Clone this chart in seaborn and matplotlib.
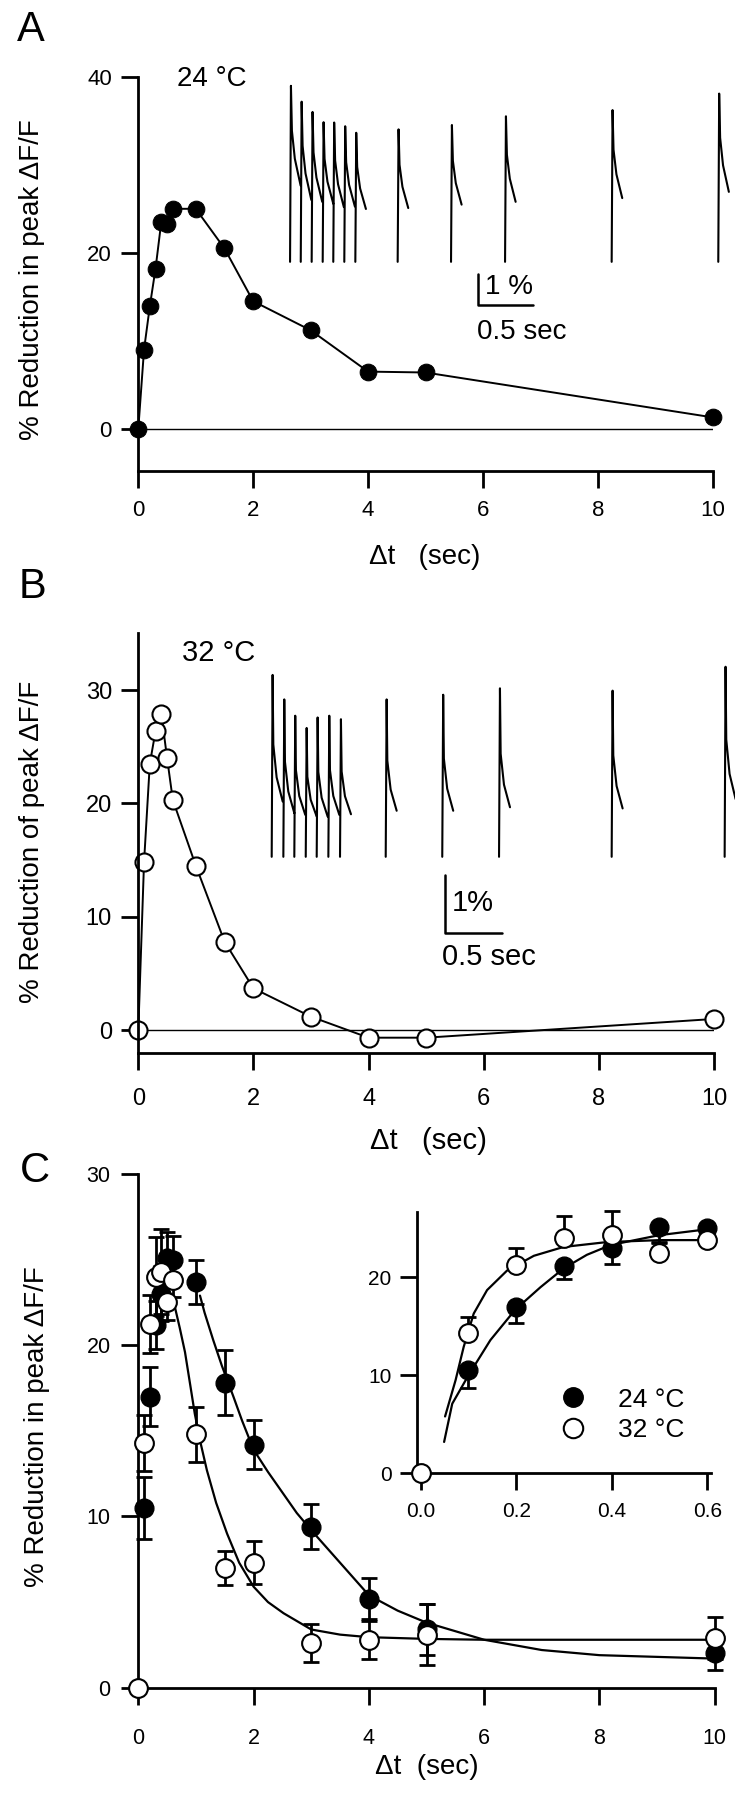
import numpy as np
import seaborn as sns
import matplotlib.pyplot as plt
from matplotlib.lines import Line2D

sns.set_theme(style="ticks")
plt.rcParams['font.family'] = ['Liberation Sans', 'DejaVu Sans']
plt.rcParams.update({"text.color": "black", "axes.labelcolor": "black",
                     "xtick.color": "black", "ytick.color": "black",
                     "axes.edgecolor": "black"})

W, H = 748, 1800

# ---------------- data ----------------
dt = [0, 0.1, 0.2, 0.3, 0.4, 0.5, 0.6, 1, 1.5, 2, 3, 4, 5, 10]
red_24 = [0, 9.0, 13.9, 18.2, 23.5, 23.3, 25.0, 25.0, 20.5, 14.5, 11.2, 6.5, 6.4, 1.3]
red_32 = [0, 14.85, 23.5, 26.4, 27.9, 24.0, 20.3, 14.5, 7.8, 3.7, 1.2, -0.65, -0.65, 1.0]

# example fluorescence traces (time in s, amplitude in %)
trace_a_onset = [0.180, 0.276, 0.374, 0.473, 0.568, 0.667, 0.766, 1.146, 1.625, 2.110, 3.067, 4.024]
trace_a_peak = [7.53, 7.02, 6.69, 6.36, 6.35, 6.23, 6.02, 6.13, 6.27, 6.55, 6.75, 7.28]
trace_a_end = [4.32, 3.86, 3.80, 3.74, 3.63, 3.65, 3.57, 3.60, 3.71, 3.80, 3.92, 4.12]
trace_a_base = 1.87

trace_b_onset = [0.188, 0.289, 0.384, 0.483, 0.578, 0.679, 0.780, 1.176, 1.666, 2.158, 3.134, 4.113]
trace_b_peak = [4.89, 4.47, 4.19, 3.98, 4.16, 4.19, 4.13, 4.47, 4.55, 4.66, 4.62, 5.03]
trace_b_end = [2.72, 2.52, 2.49, 2.46, 2.46, 2.49, 2.50, 2.56, 2.56, 2.62, 2.60, 2.76]
trace_b_base = 1.77

# decay shape of one transient (fraction of decay time, fraction of peak-end span left)
decay_a_t = [0, 0.1, 0.4, 1.0]
decay_a_v = [1, 0.55, 0.27, 0]
decay_b_t = [0, 0.07, 0.4, 1.0]
decay_b_v = [1, 0.45, 0.19, 0]

# panel C: mean +/- sem
c24_x = [0.1, 0.2, 0.3, 0.4, 0.5, 0.6, 1, 1.5, 2, 3, 4, 5, 10]
c24_y = [10.5, 17.0, 21.2, 23.0, 25.1, 25.0, 23.7, 17.8, 14.2, 9.4, 5.2, 3.4, 2.0]
c24_err = [1.8, 1.7, 1.4, 1.6, 1.5, 1.4, 1.3, 1.9, 1.45, 1.3, 1.2, 1.5, 0.95]

c32_x = [0, 0.1, 0.2, 0.3, 0.4, 0.5, 0.6, 1, 1.5, 2, 3, 4, 5, 10]
c32_y = [0, 14.3, 21.25, 24.0, 24.3, 22.5, 23.8, 14.8, 7.0, 7.3, 2.6, 2.8, 3.1, 2.9]
c32_err = [0, 1.65, 1.7, 2.3, 2.5, 1.0, 1.0, 1.6, 1.0, 1.25, 1.1, 1.1, 1.8, 1.2]

# fitted curves
fit24_x = [1.07, 1.15, 1.30, 1.45, 1.65, 1.8, 2.0, 2.25, 2.5, 2.75, 3.0, 3.5, 4.0, 4.5, 5.0, 6.0, 7.0, 8.0, 9.0, 10.0]
fit24_y = [22.9, 21.9, 20.3, 18.8, 17.0, 15.6, 13.9, 12.6, 11.4, 10.2, 9.2, 7.3, 5.4, 4.5, 3.8, 2.8, 2.2, 1.9, 1.8, 1.7]
fit32_x = [0.63, 0.72, 0.81, 0.9, 0.98, 1.08, 1.19, 1.35, 1.54, 1.75, 2.0, 2.25, 2.52, 3.0, 3.5, 4.0, 5.0, 6.0, 8.0, 10.0]
fit32_y = [22.3, 21.0, 19.6, 17.7, 16.0, 14.3, 12.7, 10.8, 9.0, 7.3, 5.9, 5.0, 4.35, 3.4, 3.1, 2.95, 2.85, 2.8, 2.8, 2.8]

ins24_x = [0.049, 0.066, 0.1, 0.146, 0.198, 0.251, 0.299, 0.348, 0.398, 0.499, 0.599]
ins24_y = [3.2, 7.1, 10.0, 13.6, 16.7, 19.0, 20.9, 22.3, 23.3, 24.3, 24.9]
ins32_x = [0.051, 0.073, 0.090, 0.111, 0.139, 0.181, 0.237, 0.299, 0.390, 0.501, 0.599]
ins32_y = [5.8, 9.5, 12.9, 16.3, 18.7, 20.7, 22.2, 23.1, 23.6, 23.8, 23.8]


def fx(px):
    return px / W


def fy(py):
    return 1 - py / H


def style_axes(ax, xlim, ylim, xticks, yticks, labelsize=16, xpad=8, ypad=7):
    ax.set_xlim(xlim)
    ax.set_ylim(ylim)
    ax.set_facecolor("none")
    ax.grid(False)
    for s in ["top", "right"]:
        ax.spines[s].set_visible(False)
    for s in ["left", "bottom"]:
        ax.spines[s].set_linewidth(2.0)
        ax.spines[s].set_color("black")
    ax.set_xticks(xticks)
    ax.set_yticks(yticks)
    ax.tick_params(direction="out", length=12, width=2, labelsize=labelsize)
    ax.tick_params(axis="x", pad=xpad)
    ax.tick_params(axis="y", pad=ypad)
    ax.set_xlabel("")
    ax.set_ylabel("")


def trace_xy(onset, peak, end, base, shape_t, shape_v, rise=0.008, decay=0.087):
    xs, ys = [], []
    for t0, p, e in zip(onset, peak, end):
        xs += [t0]
        ys += [base]
        for ft, fv in zip(shape_t, shape_v):
            xs.append(t0 + rise + ft * decay)
            ys.append(e + fv * (p - e))
        xs.append(np.nan)
        ys.append(np.nan)
    return xs, ys


fig = plt.figure(figsize=(W / 100, H / 100), dpi=100)
fig.patch.set_facecolor("white")

# ---------------- panel A ----------------
ax_a = fig.add_axes([fx(138.3), fy(470.7), (712.7 - 138.3) / W, (470.7 - 76.8) / H])
ax_a.plot([0, 10], [0, 0], color="black", lw=1.0)
sns.lineplot(x=dt, y=red_24, ax=ax_a, color="black", lw=1.4, marker="o", markersize=12,
             markerfacecolor="black", markeredgecolor="black", clip_on=False)
style_axes(ax_a, (0, 10), (-4.76, 40), [0, 2, 4, 6, 8, 10], [0, 20, 40], xpad=9, ypad=7)

ax_ta = fig.add_axes([fx(270), fy(320), 460 / W, 250 / H])
tx, ty = trace_xy(trace_a_onset, trace_a_peak, trace_a_end, trace_a_base, decay_a_t, decay_a_v)
ax_ta.plot(tx, ty, color="black", lw=1.5)
ax_ta.plot([1.864, 1.864, 2.364], [1.47, 0.47, 0.47], color="black", lw=1.8)
ax_ta.set_xlim(0, 460 / 111.4)
ax_ta.set_ylim(0, 250 / 31.1)
ax_ta.axis("off")

fig.text(fx(31), fy(30), "A", fontsize=30, ha="center", va="center")
fig.text(fx(212), fy(79), "24 °C", fontsize=20, ha="center", va="center")
fig.text(fx(31.7), fy(280), "% Reduction in peak ΔF/F", fontsize=20, rotation=90,
         ha="center", va="center")
fig.text(fx(425), fy(557), "Δt   (sec)", fontsize=20, ha="center", va="center")
fig.text(fx(485), fy(286.6), "1 %", fontsize=20, ha="left", va="center")
fig.text(fx(476.7), fy(332), "0.5 sec", fontsize=20, ha="left", va="center")

# ---------------- panel B ----------------
ax_b = fig.add_axes([fx(138.3), fy(1053), (714 - 138.3) / W, (1053 - 633.3) / H])
ax_b.plot([0, 10], [0, 0], color="black", lw=1.0)
sns.lineplot(x=dt, y=red_32, ax=ax_b, color="black", lw=1.4, marker="o", markersize=13,
             markerfacecolor="white", markeredgecolor="black", markeredgewidth=1.5,
             clip_on=False)
style_axes(ax_b, (0, 10), (-2.0, 35), [0, 2, 4, 6, 8, 10], [0, 10, 20, 30],
           labelsize=17, xpad=13, ypad=7)

ax_tb = fig.add_axes([fx(250), fy(960), 485 / W, 320 / H])
tx, ty = trace_xy(trace_b_onset, trace_b_peak, trace_b_end, trace_b_base, decay_b_t, decay_b_v)
ax_tb.plot(tx, ty, color="black", lw=1.5)
ax_tb.plot([1.687, 1.687, 2.187], [1.458, 0.458, 0.458], color="black", lw=1.8)
ax_tb.set_xlim(0, 485 / 115.4)
ax_tb.set_ylim(0, 320 / 58.3)
ax_tb.axis("off")

fig.text(fx(33), fy(587), "B", fontsize=30, ha="center", va="center")
fig.text(fx(219), fy(653), "32 °C", fontsize=21, ha="center", va="center")
fig.text(fx(31.7), fy(842), "% Reduction of peak ΔF/F", fontsize=20, rotation=90,
         ha="center", va="center")
fig.text(fx(428), fy(1141), "Δt   (sec)", fontsize=21, ha="center", va="center")
fig.text(fx(452), fy(903), "1%", fontsize=21, ha="left", va="center")
fig.text(fx(442.3), fy(956.7), "0.5 sec", fontsize=21, ha="left", va="center")

# ---------------- panel C ----------------
ax_c = fig.add_axes([fx(138.3), fy(1687.7), (714.7 - 138.3) / W, (1687.7 - 1174) / H])
sns.lineplot(x=fit24_x, y=fit24_y, ax=ax_c, color="black", lw=1.6)
sns.lineplot(x=fit32_x, y=fit32_y, ax=ax_c, color="black", lw=1.6)
ax_c.errorbar(c24_x, c24_y, yerr=c24_err, fmt="none", ecolor="black", elinewidth=2,
              capsize=5.5, capthick=2, clip_on=False)
ax_c.errorbar(c32_x, c32_y, yerr=c32_err, fmt="none", ecolor="black", elinewidth=2,
              capsize=5.5, capthick=2, clip_on=False)
ax_c.plot(c24_x, c24_y, "o", ms=13.5, mfc="black", mec="black", clip_on=False, zorder=5)
ax_c.plot(c32_x, c32_y, "o", ms=13.5, mfc="white", mec="black", mew=1.5, clip_on=False, zorder=6)
style_axes(ax_c, (0, 10), (0, 30), [0, 2, 4, 6, 8, 10], [0, 10, 20, 30],
           labelsize=15.5, xpad=17, ypad=8)

# inset: early time points
n24 = sum(1 for v in c24_x if v <= 0.6)
n32 = sum(1 for v in c32_x if v <= 0.6)
ax_ci = fig.add_axes([fx(416.7), fy(1473.3), 294.6 / W, (1473.3 - 1211.7) / H])
sns.lineplot(x=ins24_x, y=ins24_y, ax=ax_ci, color="black", lw=1.6)
sns.lineplot(x=ins32_x, y=ins32_y, ax=ax_ci, color="black", lw=1.6)
ax_ci.errorbar(c24_x[:n24], c24_y[:n24], yerr=[c24_err[:n24], [0] * n24], fmt="none",
               ecolor="black", elinewidth=2, capsize=5.5, capthick=2, clip_on=False)
ax_ci.errorbar(c32_x[:n32], c32_y[:n32], yerr=[[0] * n32, c32_err[:n32]], fmt="none",
               ecolor="black", elinewidth=2, capsize=5.5, capthick=2, clip_on=False)
ax_ci.plot(c24_x[:n24], c24_y[:n24], "o", ms=13.5, mfc="black", mec="black", clip_on=False, zorder=5)
ax_ci.plot(c32_x[:n32], c32_y[:n32], "o", ms=13.5, mfc="white", mec="black", mew=1.5,
           clip_on=False, zorder=6)
style_axes(ax_ci, (-0.0084, 0.6086), (0, 26.7), [0, 0.2, 0.4, 0.6], [0, 10, 20],
           labelsize=15, xpad=9, ypad=6)
ax_ci.set_xticklabels(["0.0", "0.2", "0.4", "0.6"])

handles = [Line2D([], [], ls="none", marker="o", ms=14, mfc="black", mec="black"),
           Line2D([], [], ls="none", marker="o", ms=14, mfc="white", mec="black", mew=1.5)]
ax_ci.legend(handles, ["24 °C", "32 °C"], loc="center left",
             bbox_to_anchor=(fx(560), fy(1415)), bbox_transform=fig.transFigure,
             frameon=False, fontsize=19, handlelength=1.0, handletextpad=1.2,
             labelspacing=0.25, borderpad=0, borderaxespad=0)

fig.text(fx(35), fy(1171), "C", fontsize=30, ha="center", va="center")
fig.text(fx(37.5), fy(1427), "% Reduction in peak ΔF/F", fontsize=20, rotation=90,
         ha="center", va="center")
fig.text(fx(427), fy(1767), "Δt  (sec)", fontsize=20, ha="center", va="center")

fig.savefig("out.png", dpi=100, facecolor="white")
